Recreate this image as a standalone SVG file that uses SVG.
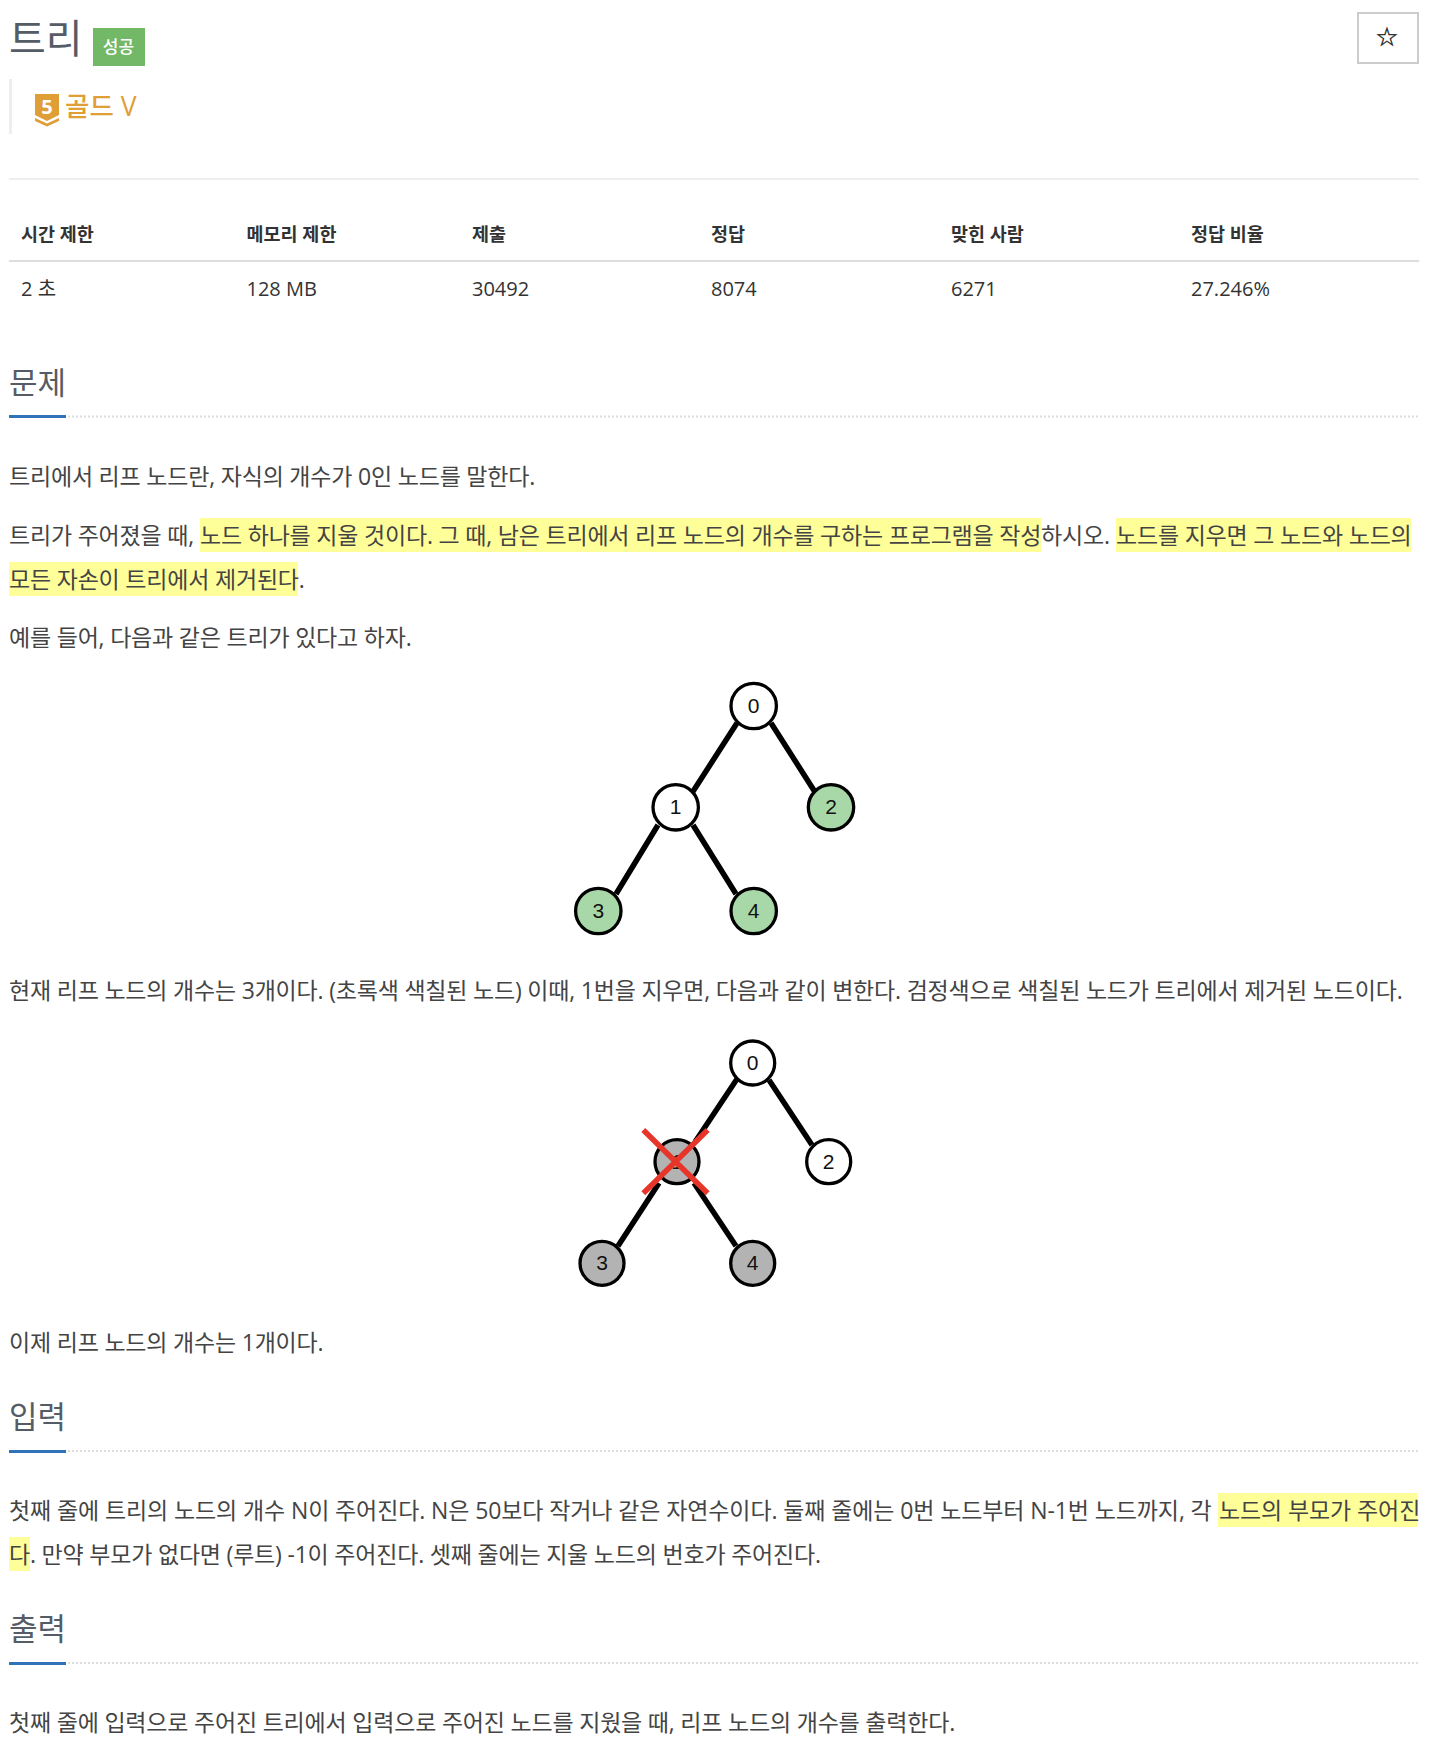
<svg xmlns="http://www.w3.org/2000/svg" width="1432" height="1758" viewBox="0 0 1432 1758">
<style>
text{font-family:"Open Sans","Noto Sans CJK KR",sans-serif;fill:#333}
.b{font-size:23px;fill:#444;letter-spacing:-.2px}
.h{font-size:31px;fill:#555c66}
.th{font-size:18.5px;font-weight:700;fill:#333}
.td{font-size:20px;fill:#333}
.hl{fill:#ffff99}
.hr{stroke:#ddd;stroke-width:2;stroke-dasharray:2 2}
.u{fill:#2f72b8}
.n{stroke:#000;stroke-width:3.3}
.e{stroke:#000;stroke-width:5.5;fill:none}
.t{font-family:"Liberation Sans",sans-serif;font-size:21px;text-anchor:middle;fill:#111}
</style>
<rect width="1432" height="1758" fill="#fff"/>
<g id="header">
<text x="9" y="53" style="font-size:40px;fill:#555c66">트리</text>
<rect x="93" y="28" width="52" height="38" fill="#72b866"/>
<text x="118.500" y="53" text-anchor="middle" style="font-size:17px;font-weight:500;fill:#fff">성공</text>
<rect x="9" y="79" width="3" height="55" fill="#eee"/>
<path d="M35 94h24v21l-12 6-12-6z" fill="#e09e37"/>
<path d="M35 118l12 5.500 12-5.500v3l-12 5.500-12-5.500z" fill="#e09e37"/>
<text x="47" y="114" text-anchor="middle" style="font-size:20px;font-weight:700;fill:#fff">5</text>
<text x="65" y="116" style="font-size:26.500px;font-weight:500;fill:#e09e37">골드 V</text>
<rect x="1358" y="13" width="60" height="50" fill="#fff" stroke="#ccc" stroke-width="2"/>
<text x="1387" y="46" text-anchor="middle" style="font-size:26px;font-family:'DejaVu Sans',sans-serif;fill:#222;stroke:#222;stroke-width:.4">☆</text>
<rect x="9" y="178" width="1410" height="2" fill="#eee"/>
</g>
<g id="table">
<rect x="9" y="260" width="1410" height="2" fill="#ddd"/>
<text class="th" x="21" y="241">시간 제한</text><text class="th" x="246.500" y="241">메모리 제한</text><text class="th" x="472" y="241">제출</text><text class="th" x="711" y="241">정답</text><text class="th" x="951" y="241">맞힌 사람</text><text class="th" x="1191" y="241">정답 비율</text>
<text class="td" x="21" y="296">2 초</text><text class="td" x="246.500" y="296">128 MB</text><text class="td" x="472" y="296">30492</text><text class="td" x="711" y="296">8074</text><text class="td" x="951" y="296">6271</text><text class="td" x="1191" y="296">27.246%</text>
</g>
<g id="highlights">
<rect class="hl" x="200" y="518" width="841" height="34"/><rect class="hl" x="1116" y="518" width="295" height="34"/><rect class="hl" x="9" y="562" width="289" height="34"/>
<rect class="hl" x="1218" y="1493" width="199" height="34"/><rect class="hl" x="9" y="1537" width="21" height="34"/>
</g>
<g id="sections">
<text class="h" x="9" y="394">문제</text><rect class="u" x="9" y="415" width="57" height="3"/><line class="hr" x1="68" y1="416.500" x2="1419" y2="416.500"/>
<text class="h" x="9" y="1428">입력</text><rect class="u" x="9" y="1450" width="57" height="3"/><line class="hr" x1="68" y1="1451" x2="1419" y2="1451"/>
<text class="h" x="9" y="1640">출력</text><rect class="u" x="9" y="1662" width="57" height="3"/><line class="hr" x1="68" y1="1663" x2="1419" y2="1663"/>
</g>
<g id="body">
<text class="b" x="9" y="485">트리에서 리프 노드란, 자식의 개수가 0인 노드를 말한다.</text>
<text class="b" x="9" y="544">트리가 주어졌을 때, <tspan x="200">노드 하나를 지울 것이다. 그 때, 남은 트리에서 리프 노드의 개수를 구하는 프로그램을 작성</tspan><tspan x="1041">하시오. </tspan><tspan x="1116">노드를 지우면 그 노드와 노드의</tspan></text>
<text class="b" x="9" y="588">모든 자손이 트리에서 제거된다.</text>
<text class="b" x="9" y="646">예를 들어, 다음과 같은 트리가 있다고 하자.</text>
<text class="b" x="9" y="999">현재 리프 노드의 개수는 3개이다. (초록색 색칠된 노드) 이때, 1번을 지우면, 다음과 같이 변한다. 검정색으로 색칠된 노드가 트리에서 제거된 노드이다.</text>
<text class="b" x="9" y="1351">이제 리프 노드의 개수는 1개이다.</text>
<text class="b" x="9" y="1519" style="letter-spacing:-.11px">첫째 줄에 트리의 노드의 개수 N이 주어진다. N은 50보다 작거나 같은 자연수이다. 둘째 줄에는 0번 노드부터 N-1번 노드까지, 각 <tspan x="1219">노드의 부모가 주어진</tspan></text>
<text class="b" x="9" y="1563">다. 만약 부모가 없다면 (루트) -1이 주어진다. 셋째 줄에는 지울 노드의 번호가 주어진다.</text>
<text class="b" x="9" y="1731">첫째 줄에 입력으로 주어진 트리에서 입력으로 주어진 노드를 지웠을 때, 리프 노드의 개수를 출력한다.</text>
</g>
<g id="connectors">
<path class="e" d="M737 723L692 793M771 723L815 792M658 825L616 894M693 825L736 894"/>
<path class="e" d="M737 1079L695 1142M769 1080L812 1145M659 1183L618 1246M694 1183L736 1246"/>
</g>
<g id="tree1">
<g id="a0"><circle class="n" cx="753.700" cy="706" r="22.700" fill="#fff"/><text class="t" x="753.700" y="713">0</text></g>
<g id="a1"><circle class="n" cx="675.700" cy="807.300" r="22.700" fill="#fff"/><text class="t" x="675.700" y="814">1</text></g>
<g id="a2"><circle class="n" cx="831" cy="807.300" r="22.700" fill="#a8d8a8"/><text class="t" x="831" y="814">2</text></g>
<g id="a3"><circle class="n" cx="598.300" cy="911" r="22.700" fill="#a8d8a8"/><text class="t" x="598.300" y="918">3</text></g>
<g id="a4"><circle class="n" cx="753.700" cy="911" r="22.700" fill="#a8d8a8"/><text class="t" x="753.700" y="918">4</text></g>
</g>
<g id="tree2">
<g id="b0"><circle class="n" cx="752.700" cy="1063" r="22" fill="#fff"/><text class="t" x="752.700" y="1070">0</text></g>
<g id="b1"><circle class="n" cx="677" cy="1161.700" r="22" fill="#b3b3b3"/><text class="t" x="677" y="1168.500">1</text></g>
<g id="b2"><circle class="n" cx="828.700" cy="1161.700" r="22" fill="#fff"/><text class="t" x="828.700" y="1168.500">2</text></g>
<g id="b3"><circle class="n" cx="602" cy="1263.300" r="22" fill="#b3b3b3"/><text class="t" x="602" y="1270">3</text></g>
<g id="b4"><circle class="n" cx="752.700" cy="1263.300" r="22" fill="#b3b3b3"/><text class="t" x="752.700" y="1270">4</text></g>
<path d="M643.300 1130L707.700 1193.300M707.700 1130L643.300 1193.300" stroke="#e8352a" stroke-width="5.500" fill="none"/>
</g>
</svg>
